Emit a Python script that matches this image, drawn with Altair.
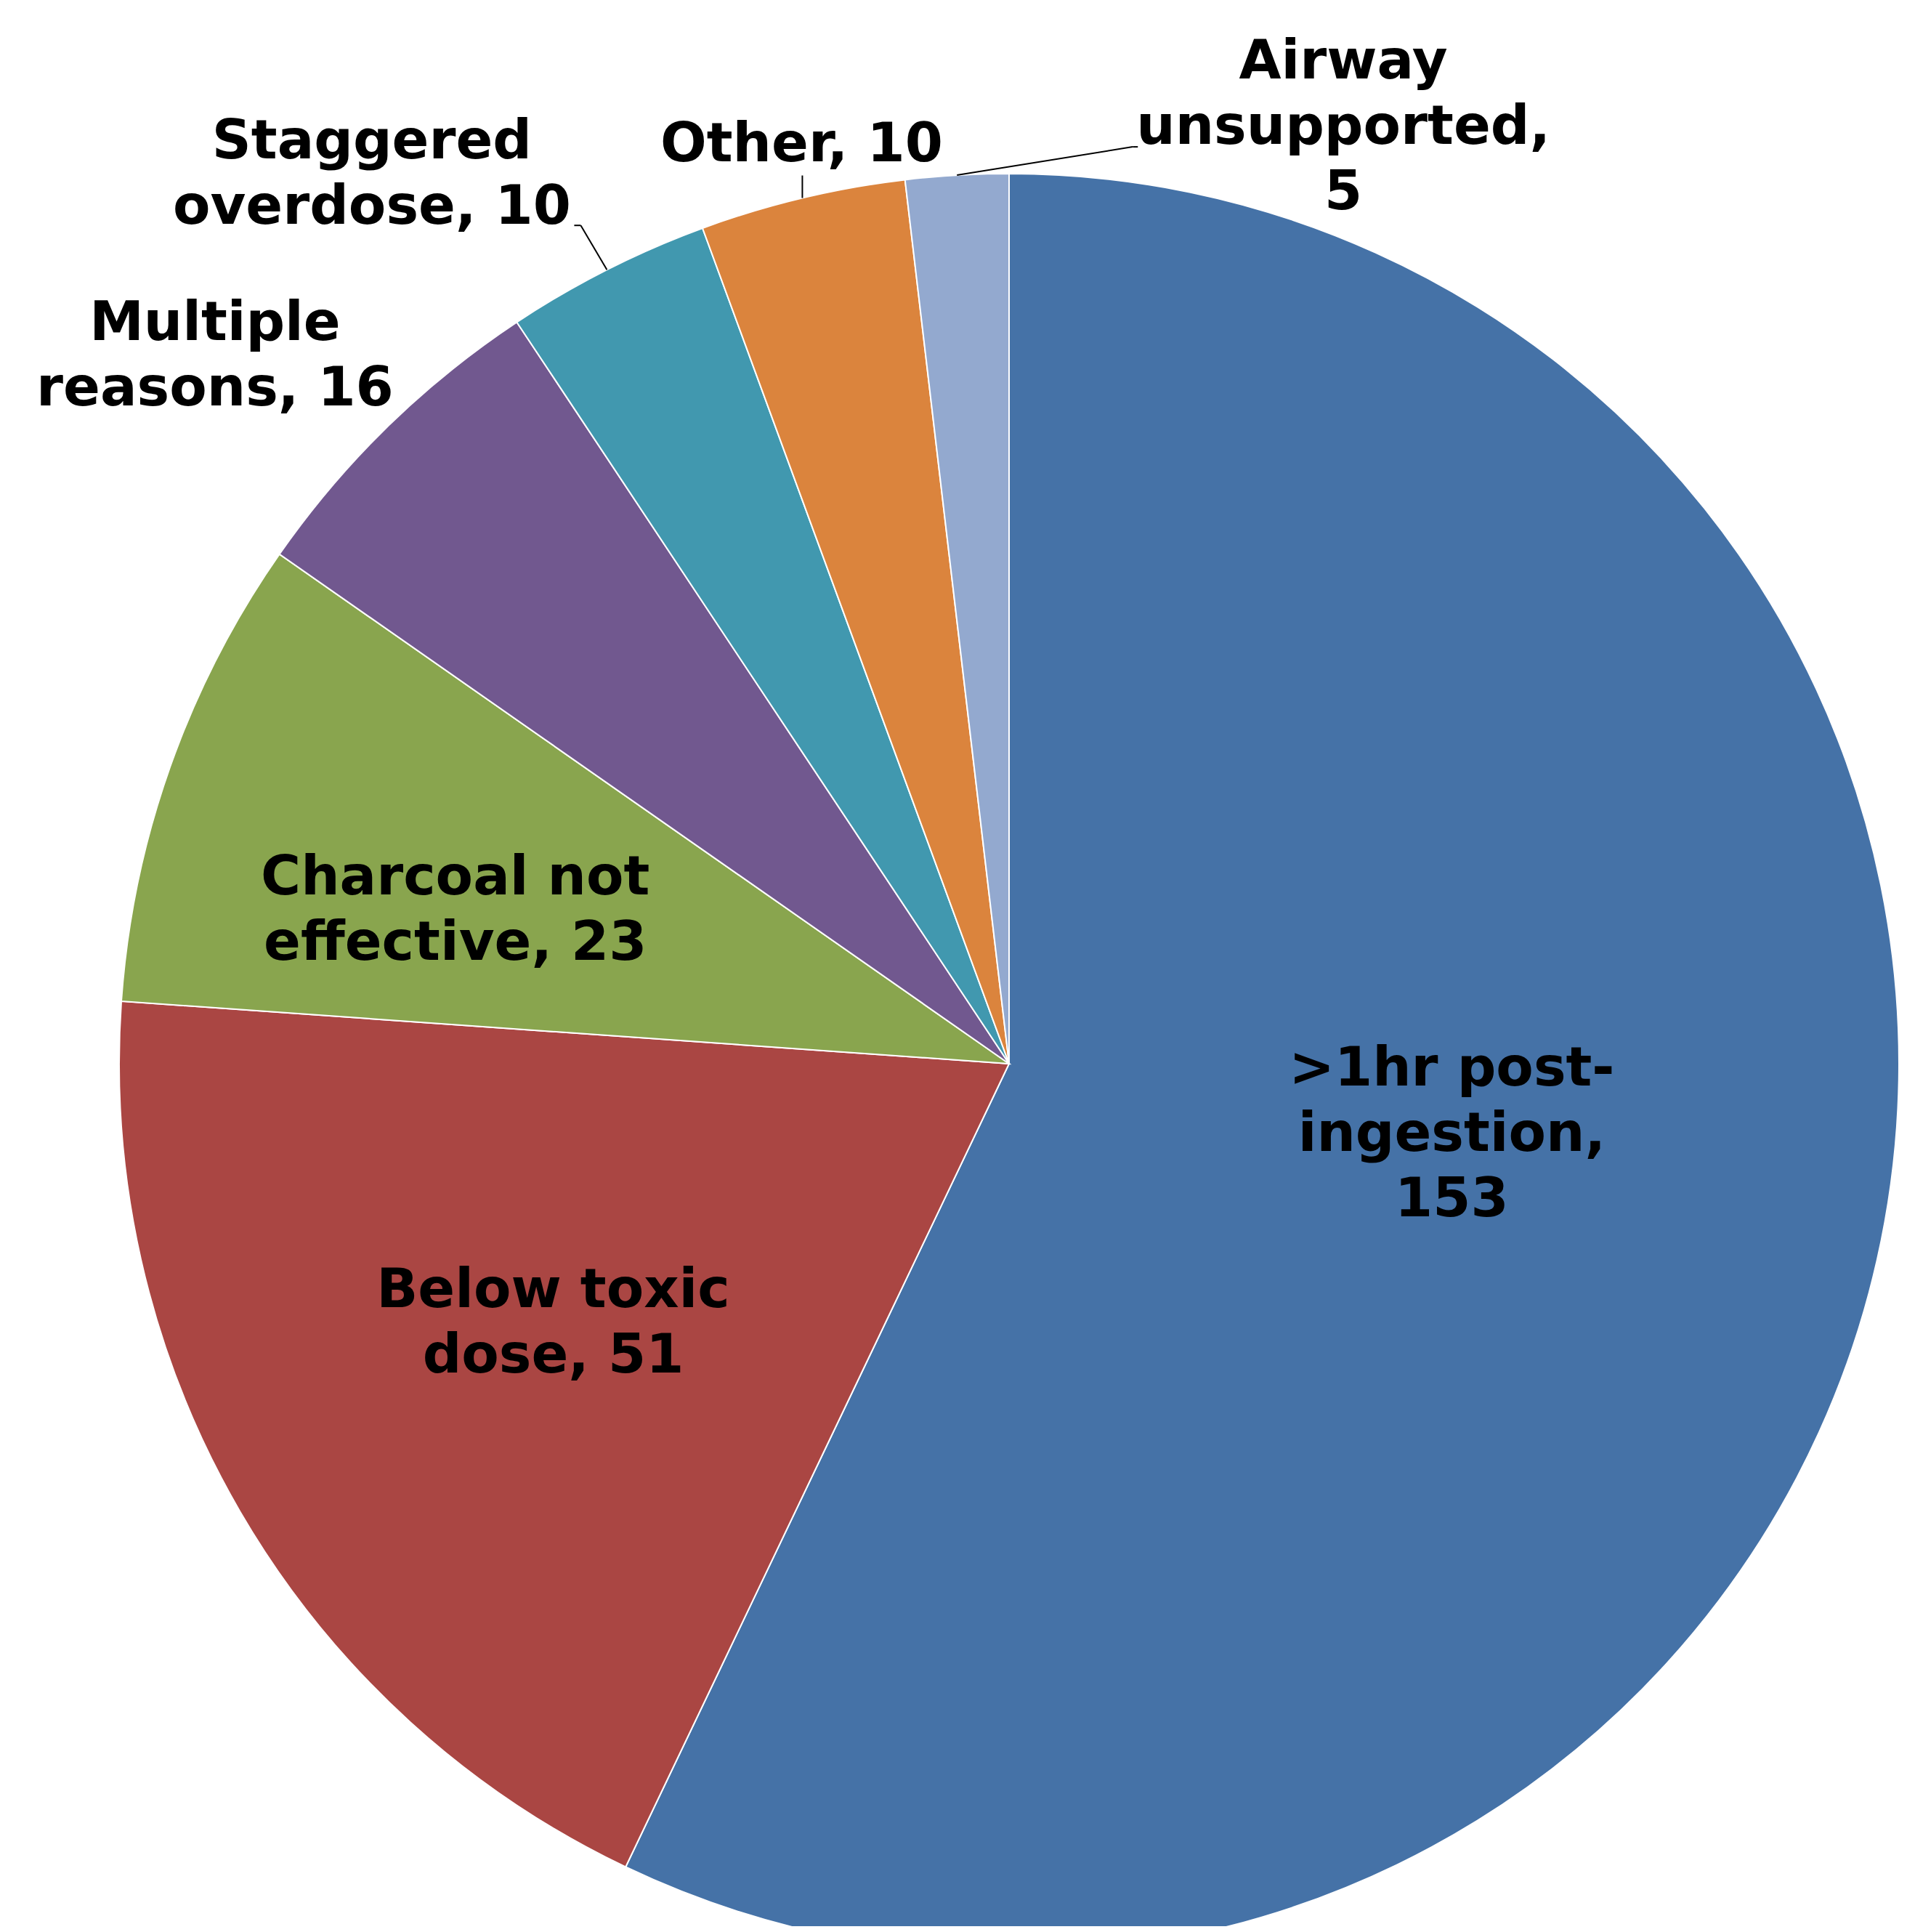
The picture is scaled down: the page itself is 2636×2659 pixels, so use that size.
import altair as alt
import pandas as pd
import numpy as np

# ---- data ----
categories = [">1hr post-ingestion", "Below toxic dose", "Charcoal not effective",
              "Multiple reasons", "Staggered overdose", "Other", "Airway unsupported"]
values = [153, 51, 23, 16, 10, 10, 5]
label_texts = [">1hr post-\ningestion,\n153", "Below toxic\ndose, 51", "Charcoal not\neffective, 23",
               "Multiple\nreasons, 16", "Staggered\noverdose, 10", "Other, 10",
               "Airway\nunsupported,\n5"]
colors = ["#4572A7", "#AA4643", "#89A54E", "#71588F", "#4198AF", "#DB843D", "#93A9CF"]

# ---- layout (style) ----
W, H = 2620, 2643
CX, CY, R = 1381, 1456, 1225
FS, LH = 75, 90
# label centre: (angle in degrees clockwise from top, distance from centre in px)
label_place = {
    ">1hr post-ingestion": (99.05, 617),
    "Below toxic dose": (240.36, 722),
    "Charcoal not effective": (285.49, 791),
    "Multiple reasons": (311.7, 1464),
    "Staggered overdose": (324.38, 1506),
    "Other": (347.28, 1297),
    "Airway unsupported": (19.64, 1369),
}
# leader lines: elbow offset (dx, dy) from slice edge middle, then horizontal tick length
leader_place = {
    "Staggered overdose": (-36, -61, -9),
    "Other": (0, -31, 0),
    "Airway unsupported": (242, -39, 7),
}

total = sum(values)
cum = np.cumsum([0] + values)
mids = {c: (cum[i] + cum[i + 1]) / 2 / total * 2 * np.pi for i, c in enumerate(categories)}


def polar(theta, r):
    return CX + r * np.sin(theta), CY - r * np.cos(theta)


df = pd.DataFrame({"category": categories, "value": values,
                   "idx": list(range(len(categories))), "label": label_texts})
lx, ly = [], []
for c, t in zip(categories, label_texts):
    a, r = label_place[c]
    x, y = polar(np.radians(a), r)
    n = t.count("\n") + 1
    lx.append(x)
    ly.append(y - (n - 1) * LH / 2)
df["lx"] = lx
df["ly"] = ly

segs = []
for c, (dx, dy, tick) in leader_place.items():
    x0, y0 = polar(mids[c], R)
    x1, y1 = x0 + dx, y0 + dy
    segs.append({"x": x0, "y": y0, "x2": x1, "y2": y1})
    if tick:
        segs.append({"x": x1, "y": y1, "x2": x1 + tick, "y2": y1})
seg_df = pd.DataFrame(segs)

base = alt.Chart(df)

pie = base.mark_arc(radius=R, stroke="white", strokeWidth=2).encode(
    theta=alt.Theta("value:Q", stack=True),
    color=alt.Color("category:N", scale=alt.Scale(domain=categories, range=colors), legend=None),
    order=alt.Order("idx:Q"),
    x=alt.value(CX),
    y=alt.value(CY),
)

labels = base.mark_text(font="DejaVu Sans", fontWeight="bold", fontSize=FS, lineHeight=LH,
                        lineBreak="\n", align="center", baseline="middle", color="black").encode(
    x=alt.X("lx:Q", scale=None),
    y=alt.Y("ly:Q", scale=None),
    text="label:N",
)

leaders = alt.Chart(seg_df).mark_rule(color="black", strokeWidth=2).encode(
    x=alt.X("x:Q", scale=None),
    y=alt.Y("y:Q", scale=None),
    x2="x2:Q",
    y2="y2:Q",
)

chart = alt.layer(pie, leaders, labels).properties(
    width=W, height=H, padding=0, autosize=alt.AutoSizeParams(type="none"),
    background="white",
).configure_view(stroke=None)

chart.save("out.html", embed_options={"renderer": "svg", "actions": False})
